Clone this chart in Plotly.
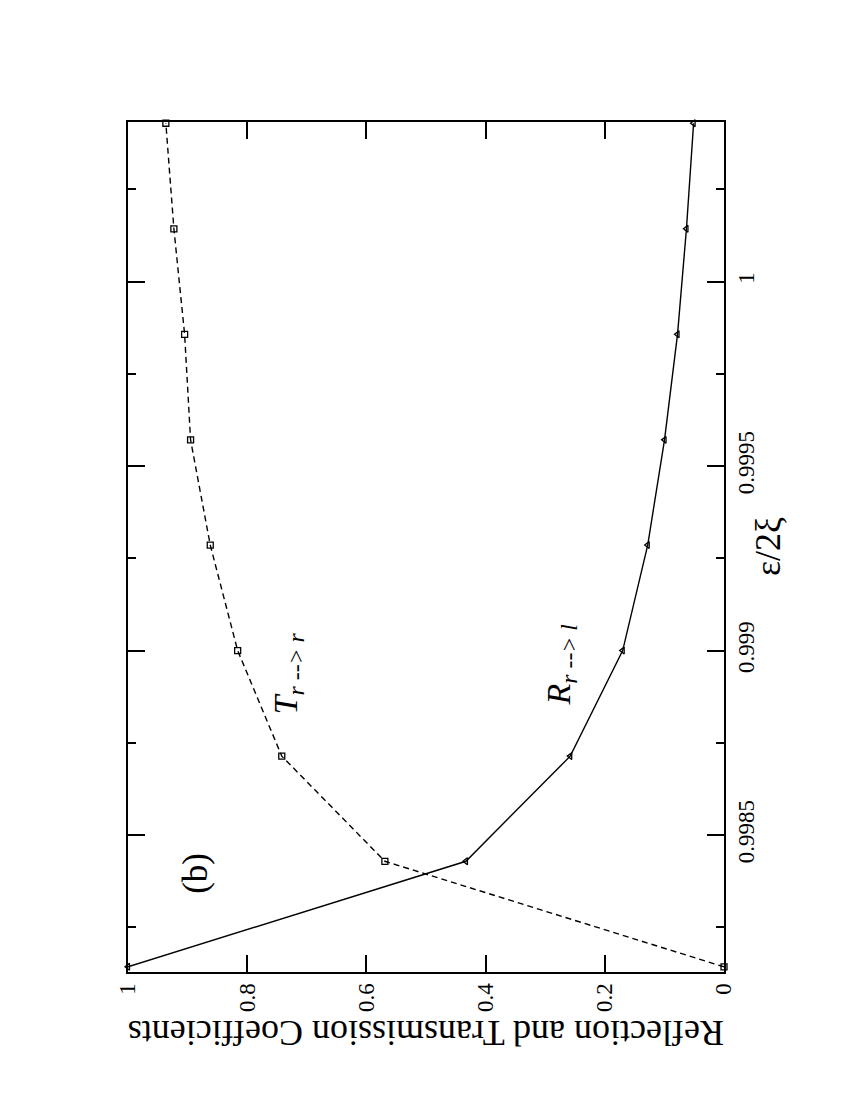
import plotly.graph_objects as go

# Data (x axis of the original chart = eps/2xi, drawn vertically here)
eps = [0.998143, 0.998429, 0.998714, 0.999000, 0.999286, 0.999571, 0.999857, 1.000143, 1.000429]
T_rr = [0.0, 0.569, 0.742, 0.816, 0.862, 0.895, 0.905, 0.923, 0.9365]
R_rl = [1.0, 0.433, 0.258, 0.170, 0.128, 0.0998, 0.078, 0.063, 0.051]

eps_ticks = [0.9985, 0.999, 0.9995, 1.0]
eps_ticktext = ["0.9985", "0.999", "0.9995", "1"]
eps_minor = [0.99825, 0.99875, 0.99925, 0.99975, 1.00025]
coef_ticks = [0, 0.2, 0.4, 0.6, 0.8, 1.0]
coef_ticktext = ["0", "0.2", "0.4", "0.6", "0.8", "1"]

FONT = "Liberation Serif"

fig = go.Figure()
fig.add_trace(go.Scatter(
    x=T_rr, y=eps, mode="lines+markers",
    line=dict(color="black", width=1.4, dash="6px,4px"),
    marker=dict(symbol="square-open", size=6, color="black", line=dict(width=1.3)),
    cliponaxis=False, showlegend=False))
fig.add_trace(go.Scatter(
    x=R_rl, y=eps, mode="lines+markers",
    line=dict(color="black", width=1.4),
    marker=dict(symbol="triangle-left-open", size=6, color="black", line=dict(width=1.3)),
    cliponaxis=False, showlegend=False))

fig.update_layout(
    width=850, height=1100,
    margin=dict(l=120, r=134, t=114, b=136, autoexpand=False),
    paper_bgcolor="white", plot_bgcolor="white",
    font=dict(family=FONT, color="black", size=22),
    xaxis=dict(range=[1, 0], showgrid=False, zeroline=False,
               showline=True, linecolor="black", linewidth=2, mirror="ticks",
               ticks="inside", ticklen=17, tickwidth=1.5, tickcolor="black",
               tickmode="array", tickvals=coef_ticks, ticktext=coef_ticktext,
               tickangle=-90, tickfont=dict(family=FONT, size=23), side="bottom"),
    yaxis=dict(range=[0.998129, 1.0004324], showgrid=False, zeroline=False,
               showline=True, linecolor="black", linewidth=2, mirror="ticks",
               ticks="inside", ticklen=17, tickwidth=1.5, tickcolor="black",
               tickmode="array", tickvals=eps_ticks, ticktext=eps_ticktext,
               minor=dict(tickmode="array", tickvals=eps_minor, ticks="inside",
                          ticklen=8, tickwidth=1.5, tickcolor="black", showgrid=False),
               tickangle=-90, tickfont=dict(family=FONT, size=23), side="right"),
)

annotations = [
    dict(text="ε/2ξ", xref="paper", yref="paper", x=1.074, y=0.5,
         xanchor="center", yanchor="middle",
         textangle=-90, showarrow=False, font=dict(family=FONT, size=36)),
    dict(text="Reflection and Transmission Coefficients", xref="paper", yref="paper",
         x=0.5, y=-0.072, xanchor="center", yanchor="middle",
         textangle=180, showarrow=False, font=dict(family=FONT, size=36)),
    dict(text="(b)", xref="x", yref="y", x=0.888, y=0.998397,
         xanchor="center", yanchor="middle",
         textangle=-90, showarrow=False, font=dict(family=FONT, size=35)),
    dict(text="<i>T</i><sub><i>r --&gt; r</i></sub>", xref="x", yref="y", x=0.731, y=0.998939,
         xanchor="center", yanchor="middle",
         textangle=-90, showarrow=False, font=dict(family=FONT, size=34)),
    dict(text="<i>R</i><sub><i>r --&gt; l</i></sub>", xref="x", yref="y", x=0.273, y=0.998963,
         xanchor="center", yanchor="middle",
         textangle=-90, showarrow=False, font=dict(family=FONT, size=34)),
]
fig.update_layout(annotations=annotations)

fig.write_html("out.html")
